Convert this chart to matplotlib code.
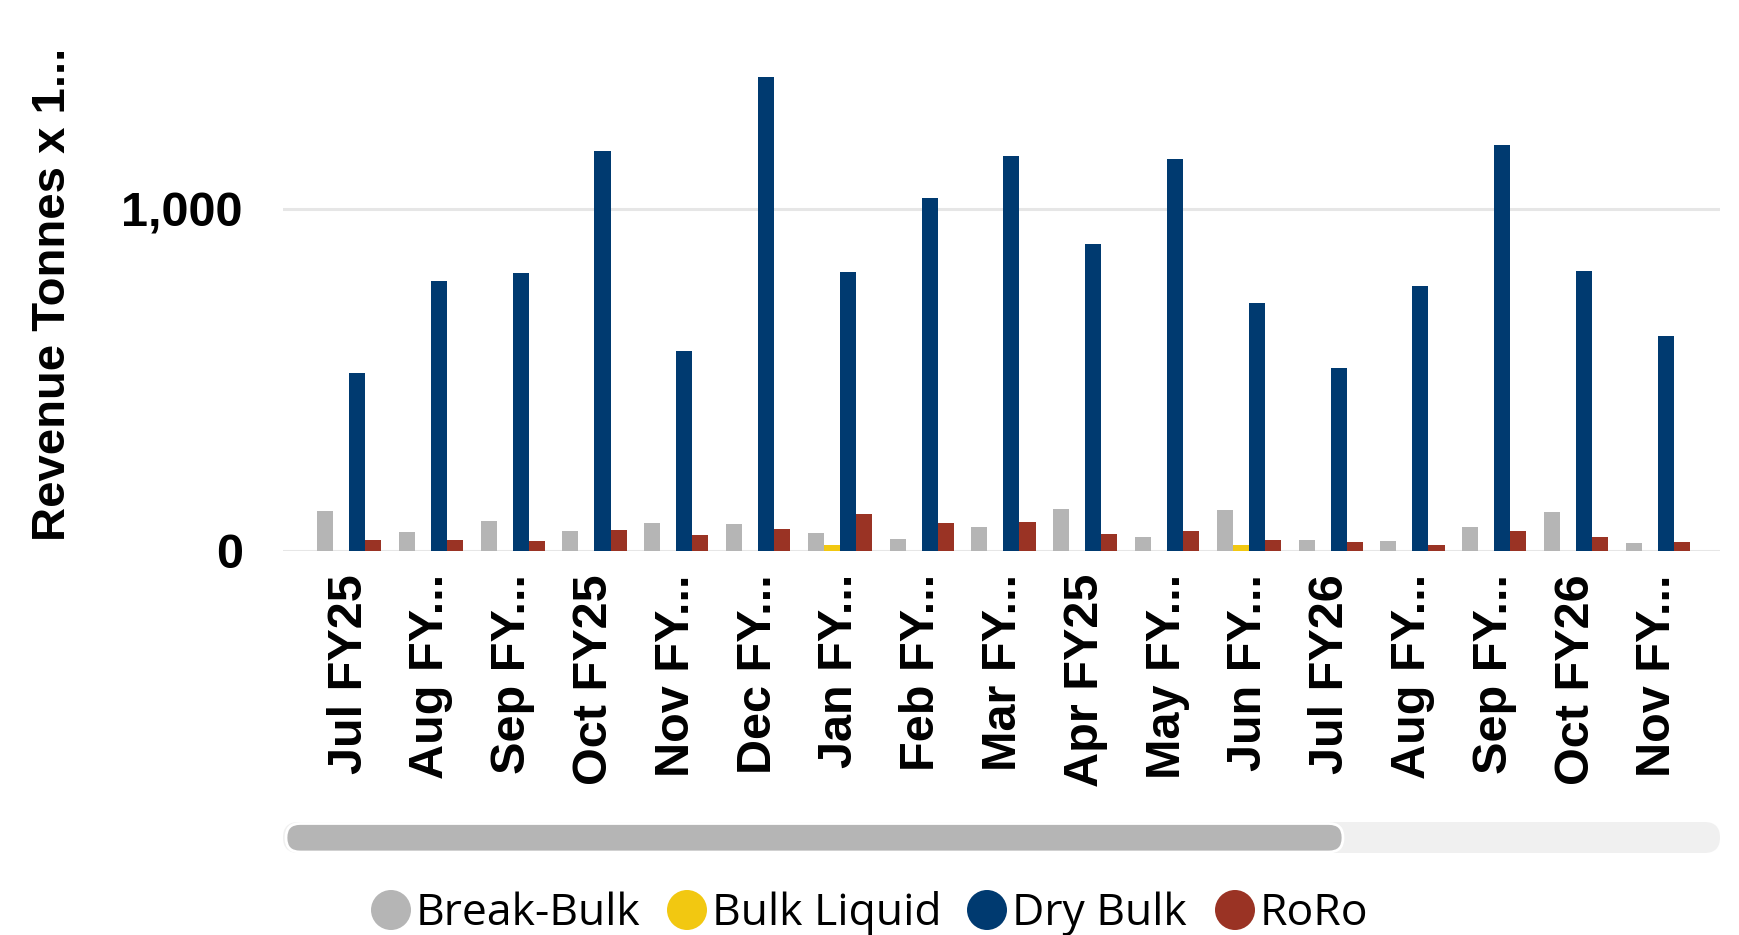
import numpy as np
import matplotlib
matplotlib.use('Agg')
import matplotlib.pyplot as plt
from matplotlib.patches import FancyBboxPatch, Circle


MONTHS = ["Jul FY25", "Aug FY...", "Sep FY...", "Oct FY25", "Nov FY...", "Dec FY...",
          "Jan FY...", "Feb FY...", "Mar FY...", "Apr FY25", "May FY...", "Jun FY...",
          "Jul FY26", "Aug FY...", "Sep FY...", "Oct FY26", "Nov FY..."]

SERIES_NAMES = ["Break-Bulk", "Bulk Liquid", "Dry Bulk", "RoRo"]
SERIES_COLORS = ["#b5b5b5", "#f2c811", "#003a70", "#9a3324"]

break_bulk = [117, 55, 85, 58, 81, 77, 50, 35, 70, 122, 41, 119, 32, 29, 70, 112, 21]
bulk_liquid = [0, 0, 0, 0, 0, 0, 15, 0, 0, 0, 0, 15, 0, 0, 0, 0, 0]
dry_bulk = [519, 789, 812, 1172, 584, 1387, 815, 1032, 1156, 899, 1146, 724,
            536, 776, 1188, 818, 630]
roro = [30, 30, 27, 59, 45, 62, 107, 81, 84, 47, 58, 32, 26, 17, 56, 41, 24]

Y_TICKS = [0, 1000]
Y_TICK_LABELS = ["0", "1,000"]
Y_LABEL = "Revenue Tonnes x 1..."

W, H = 1740, 935

plt.rcParams['font.family'] = ['Liberation Sans', 'DejaVu Sans']

fig = plt.figure(figsize=(W / 100, H / 100), dpi=100)
fig.patch.set_facecolor('white')

# main plot area, in pixels of the reference
ax_l, ax_r, ax_b, ax_t = 283, 1720, 550.5, 4.6
ax = fig.add_axes([ax_l / W, 1 - ax_b / H, (ax_r - ax_l) / W, (ax_b - ax_t) / H])

x = np.arange(len(MONTHS))
bw = 0.196
all_series = [break_bulk, bulk_liquid, dry_bulk, roro]
for i, (vals, col) in enumerate(zip(all_series, SERIES_COLORS)):
    ax.bar(x + (i - 1.5) * bw, vals, width=bw, color=col, zorder=3)

ax.set_xlim(-0.808, len(MONTHS) - 1 + 0.76)
ax.set_ylim(0, 1600)
ax.set_yticks(Y_TICKS)
ax.set_yticklabels(Y_TICK_LABELS)
ax.set_xticks(x)
ax.set_xticklabels(MONTHS, rotation=90)
for s in ax.spines.values():
    s.set_visible(False)
ax.tick_params(axis='both', length=0)
ax.tick_params(axis='y', pad=29, labelsize=35)
ax.tick_params(axis='x', pad=17, labelsize=35)
for lab in ax.get_xticklabels() + ax.get_yticklabels():
    lab.set_fontweight('bold')
ax.yaxis.grid(True, color='#e6e6e6', linewidth=2.2)
ax.set_axisbelow(True)

fig.text(53 / W, 1 - 294 / H, Y_LABEL, rotation=90, ha='center', va='center',
         fontsize=34, fontweight='bold')

# overlay for scrollbar and legend, pixel coordinates
ov = fig.add_axes([0, 0, 1, 1])
ov.set_xlim(0, W)
ov.set_ylim(H, 0)
ov.axis('off')
ov.patch.set_alpha(0)

track = FancyBboxPatch((283, 822), 1720 - 283, 31,
                       boxstyle="round,pad=0,rounding_size=15.5",
                       facecolor='#f0f0f0', edgecolor='none')
ov.add_patch(track)
thumb = FancyBboxPatch((286, 823.5), 1343 - 286, 28.5,
                       boxstyle="round,pad=0,rounding_size=14",
                       facecolor='#b5b5b5', edgecolor='white', linewidth=2)
ov.add_patch(thumb)

legend_x = [391, 687, 987, 1235]
for name, col, lx in zip(SERIES_NAMES, SERIES_COLORS, legend_x):
    ov.add_patch(Circle((lx, 910), 20, facecolor=col, edgecolor='none'))
    ov.text(lx + 25, 925, name, fontsize=32, family=['Open Sans', 'DejaVu Sans'],
            ha='left', va='baseline', color='black')

fig.savefig('out.png', dpi=100, facecolor='white')
